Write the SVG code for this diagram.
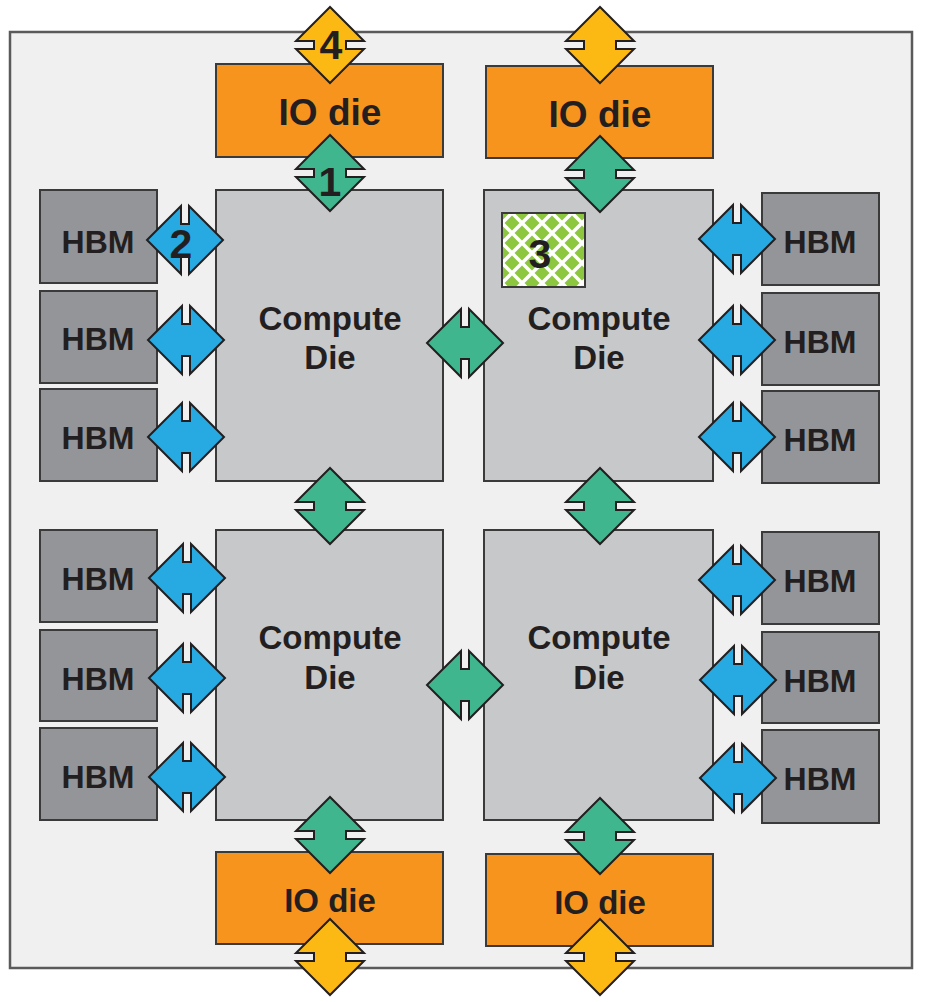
<svg xmlns="http://www.w3.org/2000/svg" width="926" height="1002" viewBox="0 0 926 1002">
<style>
.io{fill:#f7941d;stroke:#3a3a3a;stroke-width:2}
.cd{fill:#c7c8ca;stroke:#3a3a3a;stroke-width:2}
.hbm{fill:#939598;stroke:#3a3a3a;stroke-width:2}
.t{font-family:"Liberation Sans",Arial,sans-serif;font-weight:bold;fill:#231f20;text-anchor:middle}
.tio{font-size:37px}
.tio2{font-size:33px}
.tcd{font-size:33px}
.th{font-size:32px}
.num{font-size:41px}
.ay{fill:#fdb913;stroke:#231f20;stroke-width:2}
.ag{fill:#3fb68d;stroke:#231f20;stroke-width:2}
.ab{fill:#27a9e1;stroke:#231f20;stroke-width:2}
</style>
<defs>
<path id="ah" d="M-38,0 L-4,-34 L-4,-16 L4,-16 L4,-34 L38,0 L4,34 L4,16 L-4,16 L-4,34 Z"/>
<path id="av" d="M0,-38 L-34,-4 L-16,-4 L-16,4 L-34,4 L0,38 L34,4 L16,4 L16,-4 L34,-4 Z"/>
<pattern id="chk" x="502" y="213" width="20" height="20" patternUnits="userSpaceOnUse">
<rect width="20" height="20" fill="#ffffff"/>
<path d="M10,2.5 L17.5,10 L10,17.5 L2.5,10 Z M0,-7.5 L7.5,0 L0,7.5 L-7.5,0 Z M20,-7.5 L27.5,0 L20,7.5 L12.5,0 Z M0,12.5 L7.5,20 L0,27.5 L-7.5,20 Z M20,12.5 L27.5,20 L20,27.5 L12.5,20 Z" fill="#8dc63f"/>
</pattern>
</defs>
<rect id="package" x="10" y="32" width="902" height="936" fill="#f0f0f0" stroke="#5a5a5a" stroke-width="2.5"/>

<g id="io-tl"><rect class="io" x="216" y="64" width="227" height="93"/><text class="t tio" x="330" y="125">IO die</text></g>
<g id="io-tr"><rect class="io" x="486" y="66" width="227" height="92"/><text class="t tio" x="600" y="127">IO die</text></g>
<g id="io-bl"><rect class="io" x="216" y="852" width="227" height="92"/><text class="t tio2" x="330" y="912">IO die</text></g>
<g id="io-br"><rect class="io" x="486" y="854" width="227" height="92"/><text class="t tio2" x="600" y="914">IO die</text></g>

<g id="cd-tl"><rect class="cd" x="216" y="190" width="227" height="291"/><text class="t tcd" x="330" y="330">Compute</text><text class="t tcd" x="330" y="369">Die</text></g>
<g id="cd-tr"><rect class="cd" x="484" y="190" width="229" height="291"/><text class="t tcd" x="599" y="330">Compute</text><text class="t tcd" x="599" y="369">Die</text>
<rect x="502" y="213" width="83" height="74" fill="url(#chk)" stroke="#3a3a3a" stroke-width="2"/><text class="t num" x="540" y="268">3</text></g>
<g id="cd-bl"><rect class="cd" x="216" y="530" width="227" height="290"/><text class="t tcd" x="330" y="649">Compute</text><text class="t tcd" x="330" y="689">Die</text></g>
<g id="cd-br"><rect class="cd" x="484" y="530" width="229" height="290"/><text class="t tcd" x="599" y="649">Compute</text><text class="t tcd" x="599" y="689">Die</text></g>

<g id="hbm-l1"><rect class="hbm" x="40" y="190" width="117" height="93"/><text class="t th" x="98" y="253">HBM</text></g>
<g id="hbm-l2"><rect class="hbm" x="40" y="291" width="117" height="92"/><text class="t th" x="98" y="350">HBM</text></g>
<g id="hbm-l3"><rect class="hbm" x="40" y="389" width="117" height="92"/><text class="t th" x="98" y="449">HBM</text></g>
<g id="hbm-l4"><rect class="hbm" x="40" y="530" width="117" height="92"/><text class="t th" x="98" y="590">HBM</text></g>
<g id="hbm-l5"><rect class="hbm" x="40" y="630" width="117" height="91"/><text class="t th" x="98" y="690">HBM</text></g>
<g id="hbm-l6"><rect class="hbm" x="40" y="728" width="117" height="92"/><text class="t th" x="98" y="788">HBM</text></g>
<g id="hbm-r1"><rect class="hbm" x="762" y="193" width="117" height="92"/><text class="t th" x="820" y="253">HBM</text></g>
<g id="hbm-r2"><rect class="hbm" x="762" y="293" width="117" height="92"/><text class="t th" x="820" y="353">HBM</text></g>
<g id="hbm-r3"><rect class="hbm" x="762" y="391" width="117" height="92"/><text class="t th" x="820" y="451">HBM</text></g>
<g id="hbm-r4"><rect class="hbm" x="762" y="532" width="117" height="92"/><text class="t th" x="820" y="592">HBM</text></g>
<g id="hbm-r5"><rect class="hbm" x="762" y="632" width="117" height="91"/><text class="t th" x="820" y="692">HBM</text></g>
<g id="hbm-r6"><rect class="hbm" x="762" y="730" width="117" height="93"/><text class="t th" x="820" y="790">HBM</text></g>

<g id="connectors">
<use href="#av" class="ay" x="330" y="45"/>
<use href="#av" class="ay" x="600" y="45"/>
<use href="#av" class="ay" x="330" y="957"/>
<use href="#av" class="ay" x="600" y="957"/>
<use href="#av" class="ag" x="330" y="173"/>
<use href="#av" class="ag" x="600" y="174"/>
<use href="#av" class="ag" x="330" y="506"/>
<use href="#av" class="ag" x="600" y="506"/>
<use href="#av" class="ag" x="330" y="835"/>
<use href="#av" class="ag" x="600" y="836"/>
<use href="#ah" class="ag" x="465" y="343"/>
<use href="#ah" class="ag" x="465" y="685"/>
<use href="#ah" class="ab" x="185" y="240"/>
<use href="#ah" class="ab" x="186" y="340"/>
<use href="#ah" class="ab" x="186" y="437"/>
<use href="#ah" class="ab" x="187" y="578"/>
<use href="#ah" class="ab" x="187" y="678"/>
<use href="#ah" class="ab" x="187" y="777"/>
<use href="#ah" class="ab" x="737" y="239"/>
<use href="#ah" class="ab" x="737" y="340"/>
<use href="#ah" class="ab" x="737" y="437"/>
<use href="#ah" class="ab" x="737" y="580"/>
<use href="#ah" class="ab" x="738" y="680"/>
<use href="#ah" class="ab" x="738" y="778"/>
<text class="t num" x="331" y="59">4</text>
<text class="t num" x="330" y="196">1</text>
<text class="t num" x="181" y="258">2</text>
</g>
</svg>
